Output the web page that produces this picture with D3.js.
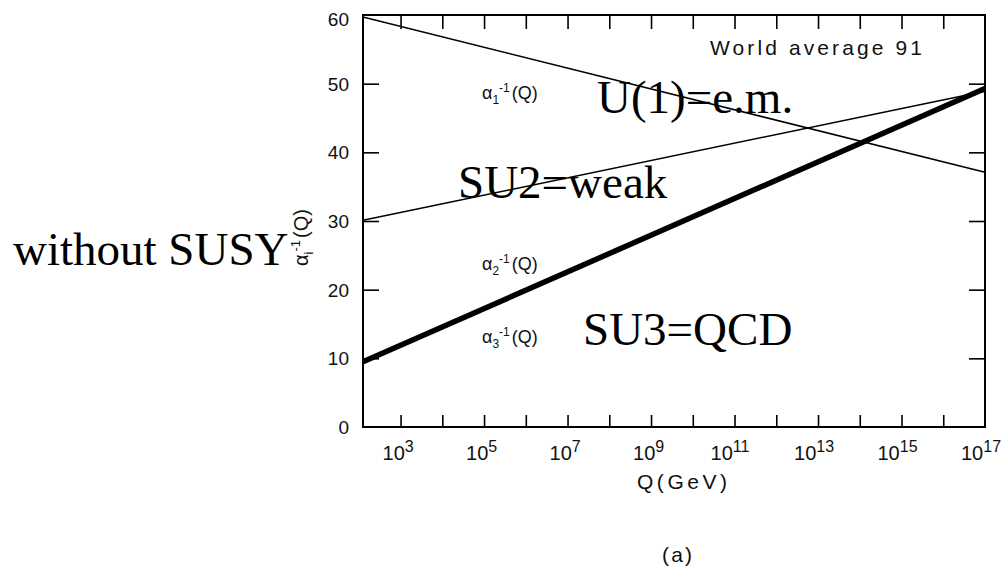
<!DOCTYPE html>
<html>
<head>
<meta charset="utf-8">
<script src="https://cdn.jsdelivr.net/npm/d3@7"></script>
<style>
  body { margin: 0; background: #fff; }
  svg { display: block; }
  .serif { font-family: "Liberation Serif", "Times New Roman", serif; fill: #000; }
  .sans { font-family: "Liberation Sans", Arial, sans-serif; fill: #111; }
</style>
</head>
<body>
<div id="chart"></div>
<script>
const width = 1007;
const height = 569;
const margin = { top: 15, right: 22, bottom: 142, left: 363 };

// data: inverse couplings at the two ends of the Q range
const qEnds = [Math.pow(10, 2.1), 1e17];
const alpha1Inv = [59.7, 37.1];
const alpha2Inv = [30.1, 48.9];
const alpha3Inv = [9.5, 49.3];

const xMinorTicks = d3.range(3, 17).map(e => Math.pow(10, e));
const xLabelExps = [3, 5, 7, 9, 11, 13, 15, 17];
const yTicks = [0, 10, 20, 30, 40, 50, 60];

const svg = d3.select("#chart")
  .append("svg")
  .attr("width", width)
  .attr("height", height);

const x = d3.scaleLog()
  .domain(qEnds)
  .range([margin.left, width - margin.right]);

const y = d3.scaleLinear()
  .domain([0, 60])
  .range([height - margin.bottom, margin.top]);

const x0 = x.range()[0], x1 = x.range()[1];
const y0 = y.range()[0], y1 = y.range()[1];

// frame
svg.append("rect")
  .attr("x", x0).attr("y", y1)
  .attr("width", x1 - x0).attr("height", y0 - y1)
  .attr("fill", "none")
  .attr("stroke", "#000")
  .attr("stroke-width", 2);

// inward ticks, all four sides
function tickStyle(g) {
  g.select(".domain").remove();
  g.selectAll(".tick line").attr("stroke", "#000").attr("stroke-width", 1.6);
}

svg.append("g")
  .attr("transform", `translate(0,${y0})`)
  .call(d3.axisBottom(x).tickValues(xMinorTicks).tickSize(-12).tickFormat(""))
  .call(tickStyle);

svg.append("g")
  .attr("transform", `translate(0,${y1})`)
  .call(d3.axisTop(x).tickValues(xMinorTicks).tickSize(-14).tickFormat(""))
  .call(tickStyle);

svg.append("g")
  .attr("transform", `translate(${x0},0)`)
  .call(d3.axisLeft(y).tickValues(yTicks.slice(1, 6)).tickSize(-16).tickFormat(""))
  .call(tickStyle);

svg.append("g")
  .attr("transform", `translate(${x1},0)`)
  .call(d3.axisRight(y).tickValues(yTicks.slice(1, 6)).tickSize(-16).tickFormat(""))
  .call(tickStyle);

// y tick labels
svg.append("g")
  .selectAll("text")
  .data(yTicks)
  .join("text")
  .attr("class", "sans")
  .attr("x", x0 - 14)
  .attr("y", d => y(d) + (d === 60 ? 11 : 7))
  .attr("text-anchor", "end")
  .attr("font-size", 19)
  .text(d => d);

// x tick labels 10^n
const xl = svg.append("g")
  .selectAll("text")
  .data(xLabelExps)
  .join("text")
  .attr("class", "sans")
  .attr("x", d => x(Math.pow(10, d)) - (d < 10 ? 18 : 24))
  .attr("y", y0 + 33)
  .attr("font-size", 20);
xl.append("tspan").text("10");
xl.append("tspan")
  .attr("dy", -8)
  .attr("font-size", 16)
  .text(d => d);

// lines
const line = d3.line()
  .x((d, i) => x(qEnds[i]))
  .y(d => y(d));

[[alpha1Inv, 1.5], [alpha2Inv, 1.5], [alpha3Inv, 5.5]].forEach(([vals, w]) => {
  svg.append("path")
    .datum(vals)
    .attr("fill", "none")
    .attr("stroke", "#000")
    .attr("stroke-width", w)
    .attr("d", line);
});

// small alpha labels inside the plot
function alphaLabel(xp, yp, sub) {
  const t = svg.append("text")
    .attr("class", "sans")
    .attr("x", xp).attr("y", yp)
    .attr("font-size", 18);
  t.append("tspan").text("α");
  t.append("tspan").attr("font-size", 12).attr("dy", 5).text(sub);
  t.append("tspan").attr("font-size", 12).attr("dy", -12).text("-1");
  t.append("tspan").attr("dy", 7).attr("dx", 2).text("(Q)");
}
alphaLabel(482, 99, "1");
alphaLabel(482, 270, "2");
alphaLabel(482, 343, "3");

// y axis title, rotated
const yt = svg.append("text")
  .attr("class", "sans")
  .attr("transform", "translate(308,266) rotate(-90)")
  .attr("font-size", 20);
yt.append("tspan").text("α");
yt.append("tspan").attr("font-size", 13).attr("dy", 5).text("i");
yt.append("tspan").attr("font-size", 13).attr("dy", -13).text("-1");
yt.append("tspan").attr("dy", 8).attr("dx", 2).text("(Q)");

// other texts
svg.append("text")
  .attr("class", "sans")
  .attr("x", 710).attr("y", 55)
  .attr("font-size", 21)
  .attr("textLength", 212)
  .attr("lengthAdjust", "spacing")
  .text("World average 91");

svg.append("text")
  .attr("class", "sans")
  .attr("x", 637).attr("y", 489)
  .attr("font-size", 21)
  .attr("textLength", 90)
  .attr("lengthAdjust", "spacing")
  .text("Q(GeV)");

svg.append("text")
  .attr("class", "sans")
  .attr("x", 662).attr("y", 562)
  .attr("font-size", 21)
  .attr("textLength", 30)
  .attr("lengthAdjust", "spacing")
  .text("(a)");

const bigLabels = [
  { t: "U(1)=e.m.", x: 597, y: 113 },
  { t: "SU2=weak", x: 458, y: 198 },
  { t: "SU3=QCD", x: 583, y: 345 },
  { t: "without SUSY", x: 13, y: 265 }
];
svg.append("g")
  .selectAll("text")
  .data(bigLabels)
  .join("text")
  .attr("class", "serif")
  .attr("x", d => d.x)
  .attr("y", d => d.y)
  .attr("font-size", 47)
  .text(d => d.t);
</script>
</body>
</html>
